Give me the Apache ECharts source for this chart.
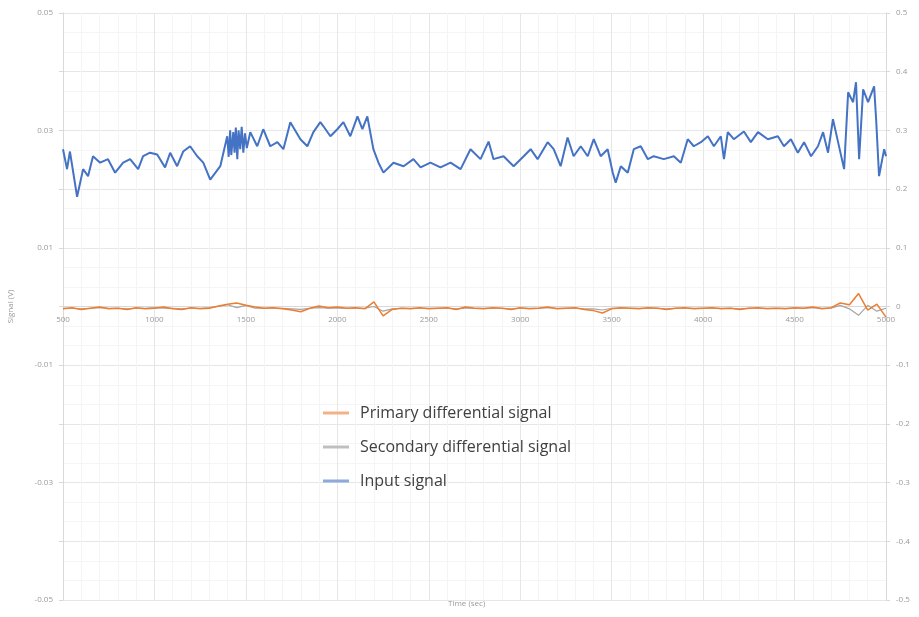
<!DOCTYPE html>
<html><head><meta charset="utf-8">
<script src="https://cdn.jsdelivr.net/npm/echarts@6/dist/echarts.min.js"></script>
<style>html,body{margin:0;padding:0;background:#fff}#c{width:919px;height:617px}</style>
</head><body><div id="c"></div>
<script>
// Input signal (right axis), time in sec
const inputTime = [500,522,538,577,610,637,664,703,746,785,829,867,911,938,976,1015,1058,1086,1124,1157,1195,1234,1267,1305,1360,1398,1406,1414,1420,1431,1438,1445,1453,1460,1469,1477,1486,1495,1505,1524,1562,1595,1633,1672,1705,1743,1798,1836,1869,1907,1924,1962,2000,2033,2071,2110,2137,2164,2197,2225,2252,2307,2362,2416,2455,2509,2564,2619,2674,2728,2783,2827,2854,2909,2964,3019,3057,3095,3150,3183,3221,3259,3292,3331,3369,3402,3440,3478,3506,3522,3550,3588,3621,3659,3698,3730,3785,3840,3878,3916,3949,3988,4026,4059,4097,4114,4135,4168,4223,4261,4300,4354,4409,4442,4480,4518,4552,4590,4628,4656,4683,4710,4738,4771,4793,4820,4836,4853,4875,4902,4935,4946,4962,4990,5000];
const inputSignal = [0.268,0.234,0.264,0.187,0.234,0.222,0.256,0.245,0.251,0.228,0.245,0.251,0.234,0.256,0.262,0.259,0.237,0.262,0.239,0.264,0.273,0.256,0.245,0.216,0.239,0.290,0.255,0.300,0.258,0.297,0.262,0.305,0.251,0.300,0.268,0.306,0.262,0.295,0.270,0.297,0.273,0.302,0.273,0.280,0.268,0.314,0.285,0.273,0.297,0.314,0.307,0.290,0.302,0.314,0.290,0.324,0.302,0.324,0.268,0.245,0.228,0.245,0.239,0.251,0.237,0.245,0.237,0.245,0.234,0.268,0.251,0.281,0.251,0.256,0.239,0.256,0.268,0.251,0.280,0.268,0.239,0.288,0.256,0.273,0.256,0.285,0.256,0.268,0.228,0.211,0.239,0.228,0.268,0.273,0.251,0.256,0.251,0.256,0.245,0.285,0.273,0.280,0.290,0.273,0.290,0.251,0.297,0.285,0.298,0.280,0.297,0.285,0.290,0.273,0.285,0.262,0.280,0.256,0.273,0.297,0.262,0.319,0.280,0.234,0.365,0.348,0.382,0.251,0.370,0.348,0.375,0.319,0.222,0.268,0.256];

// Differential signals (left axis), time in sec
const diffTime = [500,550,600,650,700,750,800,850,900,950,1000,1050,1100,1150,1200,1250,1300,1350,1400,1450,1500,1550,1600,1650,1700,1750,1800,1850,1900,1950,2000,2050,2100,2150,2200,2250,2300,2350,2400,2450,2500,2550,2600,2650,2700,2750,2800,2850,2900,2950,3000,3050,3100,3150,3200,3250,3300,3350,3400,3450,3500,3550,3600,3650,3700,3750,3800,3850,3900,3950,4000,4050,4100,4150,4200,4250,4300,4350,4400,4450,4500,4550,4600,4650,4700,4750,4800,4850,4900,4950,5000];
const primaryDiff = [-0.0004,-0.0002,-0.0005,-0.0003,-0.0001,-0.0004,-0.0003,-0.0005,-0.0002,-0.0004,-0.0003,-0.0001,-0.0004,-0.0005,-0.0002,-0.0004,-0.0003,0.0001,0.0004,0.0006,0.0002,-0.0001,-0.0003,-0.0002,-0.0004,-0.0006,-0.0009,-0.0003,0.0001,-0.0002,-0.0001,-0.0003,-0.0002,-0.0004,0.0008,-0.0016,-0.0005,-0.0003,-0.0004,-0.0002,-0.0004,-0.0003,-0.0002,-0.0005,-0.0001,-0.0003,-0.0004,-0.0002,-0.0003,-0.0005,-0.0002,-0.0004,-0.0003,-0.0001,-0.0004,-0.0003,-0.0002,-0.0005,-0.0007,-0.0011,-0.0004,-0.0002,-0.0003,-0.0004,-0.0002,-0.0003,-0.0005,-0.0003,-0.0002,-0.0004,-0.0003,-0.0002,-0.0004,-0.0003,-0.0005,-0.0003,-0.0002,-0.0004,-0.0003,-0.0004,-0.0002,-0.0003,-0.0001,-0.0004,-0.0002,0.0006,0.0003,0.0022,-0.0006,0.0004,-0.0018];
const secondaryDiff = [-0.0003,-0.0003,-0.0004,-0.0003,-0.0002,-0.0003,-0.0003,-0.0004,-0.0003,-0.0003,-0.0002,-0.0003,-0.0003,-0.0004,-0.0003,-0.0003,-0.0002,0.0000,0.0003,-0.0002,0.0002,-0.0003,-0.0003,-0.0003,-0.0003,-0.0004,-0.0005,-0.0003,-0.0002,-0.0003,-0.0003,-0.0003,-0.0003,-0.0003,0.0000,-0.0008,-0.0004,-0.0003,-0.0003,-0.0003,-0.0003,-0.0003,-0.0003,-0.0004,-0.0003,-0.0003,-0.0003,-0.0003,-0.0003,-0.0004,-0.0003,-0.0003,-0.0003,-0.0002,-0.0003,-0.0003,-0.0003,-0.0004,-0.0004,-0.0006,-0.0003,-0.0003,-0.0003,-0.0003,-0.0003,-0.0003,-0.0004,-0.0003,-0.0003,-0.0003,-0.0003,-0.0003,-0.0003,-0.0003,-0.0004,-0.0003,-0.0003,-0.0003,-0.0003,-0.0003,-0.0003,-0.0003,-0.0002,-0.0003,-0.0003,0.0002,-0.0004,-0.0015,0.0002,-0.0008,-0.0003];

const seriesNames = ['Primary differential signal','Secondary differential signal','Input signal'];
const xTicks = {min:500,max:5000,interval:500};
const leftTicks = {min:-0.05,max:0.05,interval:0.01};
const rightTicks = {min:-0.5,max:0.5,interval:0.1};

function zip(a,b){return a.map((t,i)=>[t,b[i]]);}

const chart = echarts.init(document.getElementById('c'));
const labelStyle = {color:'#9a9a9a',fontSize:8,fontFamily:'Open Sans'};
const gridTop = 13, gridBottom = 17, H = 617;
// place x axis where the left axis is zero (middle of the symmetric range)
const zeroOffset = -(H - gridTop - gridBottom) * (0 - leftTicks.min) / (leftTicks.max - leftTicks.min);
chart.setOption({
  animation:false,
  grid:{left:63,right:33,top:gridTop,bottom:gridBottom,containLabel:false,outerBoundsMode:'none'},
  legend:{
    data:seriesNames, orient:'vertical', left:318, top:400, itemGap:18,
    itemWidth:26, itemHeight:3, icon:'rect',
    textStyle:{color:'#404040',fontSize:16,fontFamily:'Open Sans',padding:[0,0,0,6]}
  },
  graphic:[{type:'text',left:448,top:600,style:{text:'Time (sec)',fill:'#9a9a9a',font:'8px "Open Sans"'}}],
  xAxis:{
    type:'value', min:xTicks.min, max:xTicks.max, interval:xTicks.interval,
    position:'bottom', offset:zeroOffset,
    axisLine:{onZero:false,lineStyle:{color:'#d9d9d9'}},
    axisTick:{show:false},
    axisLabel:Object.assign({margin:9,formatter:function(v){return String(v);}},labelStyle),
    splitLine:{show:true,lineStyle:{color:'#e6e6e6'}},
    minorTick:{show:false,splitNumber:5},
    minorSplitLine:{show:true,lineStyle:{color:'#f4f4f4'}}
  },
  yAxis:[{
    type:'value', min:leftTicks.min, max:leftTicks.max, interval:leftTicks.interval,
    name:'Signal (V)', nameLocation:'middle', nameGap:48, nameRotate:90,
    nameTextStyle:labelStyle,
    axisLine:{show:true,onZero:false,lineStyle:{color:'#d9d9d9'}},
    axisTick:{show:true,length:4,lineStyle:{color:'#d9d9d9'}},
    axisLabel:Object.assign({margin:10,formatter:function(v){
      const k=Math.round(v*100);
      return (Math.abs(k)%2===1)?v.toFixed(2):'';
    }},labelStyle),
    splitLine:{show:true,lineStyle:{color:'#e6e6e6'}},
    minorTick:{show:false,splitNumber:3},
    minorSplitLine:{show:true,lineStyle:{color:'#f5f5f5'}}
  },{
    type:'value', min:rightTicks.min, max:rightTicks.max, interval:rightTicks.interval,
    position:'right',
    axisLine:{show:true,onZero:false,lineStyle:{color:'#d9d9d9'}},
    axisTick:{show:true,length:4,lineStyle:{color:'#d9d9d9'}},
    axisLabel:Object.assign({margin:10,formatter:function(v){
      return String(Math.round(v*10)/10);
    }},labelStyle),
    splitLine:{show:false}
  }],
  series:[
    {name:seriesNames[0],type:'line',yAxisIndex:0,showSymbol:false,symbol:'none',
     data:zip(diffTime,primaryDiff),lineStyle:{color:'#ED7D31',width:1.5},itemStyle:{color:'#F4B183'},z:3},
    {name:seriesNames[1],type:'line',yAxisIndex:0,showSymbol:false,symbol:'none',
     data:zip(diffTime,secondaryDiff),lineStyle:{color:'#A5A5A5',width:1.2},itemStyle:{color:'#BFBFBF'},z:2},
    {name:seriesNames[2],type:'line',yAxisIndex:1,showSymbol:false,symbol:'none',
     data:zip(inputTime,inputSignal),lineStyle:{color:'#4472C4',width:2},itemStyle:{color:'#8EA9DB'},z:4}
  ]
});
</script>
</body></html>
